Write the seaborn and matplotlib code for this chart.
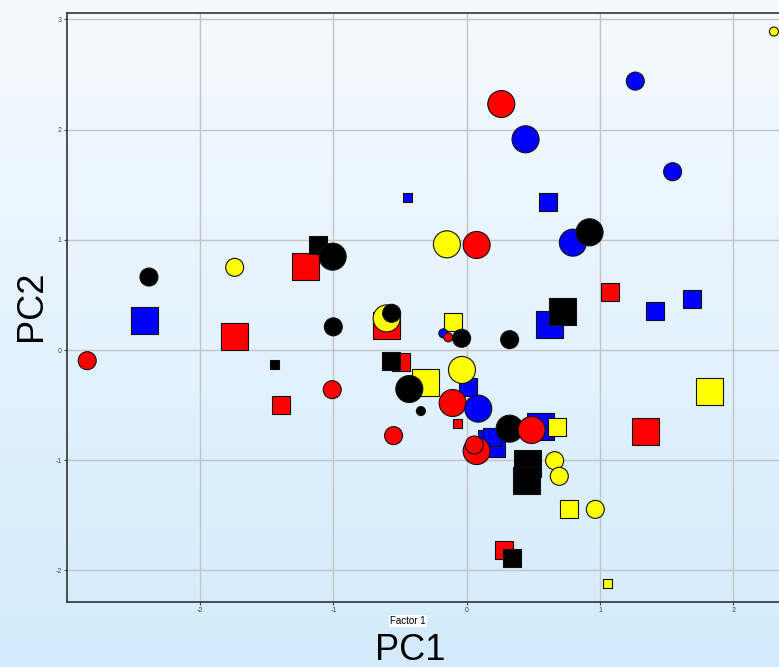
import matplotlib
matplotlib.use('Agg')
import matplotlib.pyplot as plt
import seaborn as sns
from matplotlib.colors import LinearSegmentedColormap
from numpy import linspace
from pandas import DataFrame

# points listed in drawing order (later ones sit on top)
pc1 = [-2.413, 0.61, 1.41, 1.69, 0.62, -0.44, 0.0075, 0.557, 0.19, 0.19,
       -1.743, -1.205, 1.072, -0.6, -0.49, -0.07, 1.34, 0.277, -1.395,
       -0.103, -0.305, 0.677, 0.767, 1.057, 1.825,
       -1.113, 0.72, -0.568, 0.457, 0.452, 0.34, -1.438,
       -0.175,
       0.26, 0.075, -0.138, -0.105, -0.548, 0.075, 0.057, -2.846, -1.008,
       1.265, 0.442, 1.545, 0.797, 0.087,
       -1.74, 2.305, -0.148, -0.6, -0.035, 0.66, 0.695, 0.965,
       -2.383, -1.005, -1.0, 0.922, -0.5625, -0.0375, 0.3225, -0.43, -0.343, 0.3225,
       0.4875]
pc2 = [0.266, 1.346, 0.351, 0.466, 0.227, 1.382, -0.339, -0.696, -0.85, -0.79,
       0.127, 0.756, 0.523, 0.22, -0.106, -0.669, -0.744, -1.812, -0.496,
       0.257, -0.297, -0.699, -1.443, -2.123, -0.381,
       0.953, 0.351, -0.1, -1.028, -1.18, -1.887, -0.13,
       0.151,
       2.232, 0.953, 0.115, -0.481, -0.777, -0.917, -0.862, -0.097, -0.36,
       2.44, 1.912, 1.618, 0.974, -0.532,
       0.75, 2.89, 0.959, 0.287, -0.181, -1.004, -1.146, -1.446,
       0.662, 0.847, 0.21, 1.068, 0.333, 0.106, 0.094, -0.354, -0.554, -0.714,
       -0.726]
group = (['blue'] * 10 + ['red'] * 9 + ['yellow'] * 6 + ['black'] * 7
         + ['blue'] + ['red'] * 9 + ['blue'] * 5 + ['yellow'] * 8 + ['black'] * 10
         + ['red'])
shape = ['square'] * 32 + ['circle'] * 34
level = ['L', 'M', 'M', 'M', 'L', 'S', 'M', 'L', 'L', 'M',
         'L', 'L', 'M', 'L', 'M', 'S', 'L', 'M', 'M',
         'M', 'L', 'M', 'M', 'S', 'L',
         'M', 'L', 'M', 'L', 'L', 'M', 'S',
         'S',
         'L', 'L', 'S', 'L', 'M', 'L', 'M', 'M', 'M',
         'M', 'L', 'M', 'L', 'L',
         'M', 'S', 'L', 'L', 'L', 'M', 'M', 'M',
         'M', 'L', 'M', 'L', 'M', 'M', 'M', 'L', 'S', 'L',
         'L']

x_ticks = [-2, -1, 0, 1, 2]
y_ticks = [-2, -1, 0, 1, 2, 3]

df = DataFrame({'PC1': pc1, 'PC2': pc2, 'group': group, 'shape': shape, 'level': level})

plt.rcParams['axes.unicode_minus'] = False
plt.rcParams['font.family'] = ['Liberation Sans', 'DejaVu Sans']

fig = plt.figure(figsize=(7.79, 6.67), dpi=100)

# light blue vertical gradient behind everything
bg = fig.add_axes([0, 0, 1, 1], zorder=-10)
cmap = LinearSegmentedColormap.from_list('bg', ['#f5faff', '#d3ebfc'])
bg.imshow(linspace(0, 1, 256).reshape(-1, 1), aspect='auto', cmap=cmap, extent=[0, 1, 0, 1])
bg.axis('off')

ax = fig.add_axes([0.0856, 0.0979, 0.9144, 0.8821])
ax.set_facecolor('none')

sns.scatterplot(data=df, x='PC1', y='PC2', hue='group', style='shape', size='level',
                palette={'red': '#ff0000', 'blue': '#0000ff', 'yellow': '#ffff00', 'black': '#000000'},
                markers={'circle': 'o', 'square': 's'},
                sizes={'S': 42, 'M': 168, 'L': 378},
                edgecolor='#111111', linewidth=0.8, legend=False, ax=ax, zorder=3)

ax.set_xlim(-3.0, 2.343)
ax.set_ylim(-2.284, 3.055)
ax.set_xticks(x_ticks)
ax.set_yticks(y_ticks)
ax.grid(True, color='#c4c4c4', linewidth=1)
ax.set_axisbelow(True)
ax.tick_params(labelsize=5, length=2, width=0.8, colors='#444444', pad=1.5)
ax.set_xlabel('')
ax.set_ylabel('')

for side in ['left', 'bottom', 'top']:
    ax.spines[side].set_color('#333333')
    ax.spines[side].set_linewidth(1.2)
ax.spines['right'].set_visible(False)

fig.text(408 / 779, 1 - 621 / 667, 'Factor 1', fontsize=7, ha='center', va='center',
         bbox=dict(facecolor='white', edgecolor='none', pad=1))
fig.text(410 / 779, 1 - 650 / 667, 'PC1', fontsize=26, ha='center', va='center')
fig.text(31 / 779, 1 - 306 / 667, 'PC2', fontsize=26, ha='center', va='center', rotation=90)

fig.savefig('out.png', dpi=100)
